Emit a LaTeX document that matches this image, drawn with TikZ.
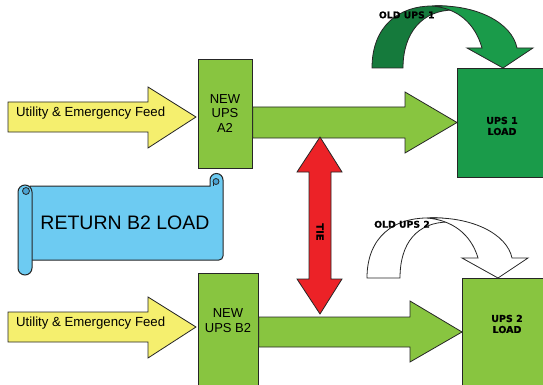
\documentclass[tikz,border=0pt]{standalone}
\usepackage{fontspec}
\setmainfont{Liberation Sans}
\newfontfamily\blk{DejaVu Sans Bold}[FakeBold=0.6]
\definecolor{yel}{HTML}{F5EF6E}
\definecolor{lgreen}{HTML}{88C540}
\definecolor{mgreen}{HTML}{1A9B4A}
\definecolor{dgreen}{HTML}{157A3C}
\definecolor{tiered}{HTML}{EC2227}
\definecolor{sblue}{HTML}{6DCBF2}
\definecolor{dblue}{HTML}{4AA3D3}
\tikzset{
  outl/.style={draw=black!85, line width=0.8pt, line join=miter},
  box/.style={outl, anchor=north west, inner sep=0pt},
  feedtxt/.style={font=\fontsize{13.2}{15}\selectfont, inner sep=0pt, anchor=base west},
  upstxt/.style={font=\fontsize{13}{14.6}\selectfont, align=center, inner sep=0pt},
  loadtxt/.style={font=\blk\fontsize{9.5}{11}\selectfont, align=center, inner sep=0pt},
  oldtxt/.style={font=\blk\fontsize{9.3}{10}\selectfont, inner sep=0pt, anchor=base},
}
\begin{document}
\begin{tikzpicture}[x=1pt,y=-1pt]
\useasboundingbox (0,0) rectangle (543,385);

% boxes
\node[box, fill=lgreen, minimum width=54pt, minimum height=109pt] (A2) at (198,59) {};
\node[box, fill=lgreen, minimum width=60pt, minimum height=112pt] (B2) at (198,273) {};
\node[box, fill=mgreen, minimum width=90pt, minimum height=109pt] (U1) at (457,68) {};
\node[box, fill=lgreen, minimum width=90pt, minimum height=112pt] (U2) at (462,278) {};

\node[upstxt] (A2t) at (225,113.5) {NEW\\UPS\\A2};
\node[upstxt] (B2t) at (228,320.5) {NEW\\UPS B2};
\node[loadtxt] (U1t) at (502,126) {UPS 1\\LOAD};
\node[loadtxt] (U2t) at (507,324) {UPS 2\\LOAD};

% yellow feed arrows
\draw[outl, fill=yel] (8,102) -- (148,102) -- (148,87) -- (196,117) -- (148,148) -- (148,132) -- (8,132) -- cycle;
\node[feedtxt] (F1) at (16,116.7) {Utility \& Emergency Feed};
\draw[outl, fill=yel] (8,312) -- (148,312) -- (148,297) -- (196,327) -- (148,358) -- (148,342) -- (8,342) -- cycle;
\node[feedtxt] (F2) at (16,326.7) {Utility \& Emergency Feed};

% green arrows
\draw[outl, fill=lgreen] (A2.east |- 0,107) -- (405,107) -- (405,92) -- (U1.west |- 0,122.5) -- (405,153) -- (405,138) -- (A2.east |- 0,138) -- cycle;
\draw[outl, fill=lgreen] (B2.east |- 0,317) -- (410,317) -- (410,301) -- (U2.west |- 0,332) -- (410,362) -- (410,347) -- (B2.east |- 0,347) -- cycle;

% TIE arrow
\draw[outl, fill=tiered] (320,137) -- (342,172) -- (331,172) -- (331,279) -- (342,279) -- (320,314) -- (297,279) -- (309,279) -- (309,172) -- (297,172) -- cycle;
\node[font=\blk\fontsize{10}{10}\selectfont, rotate=-90, inner sep=0pt] (tie) at (320,232) {TIE};

% scroll
\draw[outl, fill=sblue, line width=1pt] (30,186) -- (210,186) -- (210,180) arc (180:360:6.5) -- (223,256) arc (0:90:4) -- (30,260) -- cycle;
\draw[outl, fill=dblue] (216,181.5) circle (3);
\draw[outl] (213,181.5) -- (213,186);
\draw[outl, fill=sblue, line width=1pt] (18,192) -- (18,268) arc (180:0:7) -- (32,192) arc (0:-180:7) -- cycle;
\draw[outl, fill=dblue] (26,191) circle (3.5);
\node[font=\fontsize{19.5}{22}\selectfont, inner sep=0pt] (ret) at (125,223) {RETURN B2 LOAD};

% curved arrows
\begin{scope}[shift={(372,68)}]
\draw[outl, fill=dgreen] (0,0) .. controls (0,-43) and (28,-62) .. (60,-62) .. controls (70,-62.5) and (78,-62) .. (84,-60) -- (82,-58) .. controls (50,-58) and (31,-35) .. (31,0) -- cycle;
\draw[outl, fill=mgreen] (60,-62) .. controls (105,-64) and (140,-45) .. (145,-20) -- (161,-20) -- (131,0) -- (95,-20) -- (110,-20) .. controls (103,-45) and (85,-60) .. (60,-62) -- cycle;
\end{scope}
\node[oldtxt] (O1) at (406.7,18.3) {OLD UPS 1};

\begin{scope}[shift={(367,278)}]
\draw[outl, fill=white] (0,0) .. controls (0,-42) and (28,-60) .. (60,-60) .. controls (70,-60.5) and (78,-60) .. (84,-58) -- (82,-56) .. controls (50,-56) and (33,-35) .. (33,0) -- cycle;
\draw[outl, fill=white] (60,-60) .. controls (105,-62) and (140,-44) .. (145,-20) -- (161,-20) -- (131,0) -- (95,-20) -- (111,-20) .. controls (104,-44) and (85,-58) .. (60,-60) -- cycle;
\end{scope}
\node[oldtxt] (O2) at (402,227.7) {OLD UPS 2};
\end{tikzpicture}
\end{document}
